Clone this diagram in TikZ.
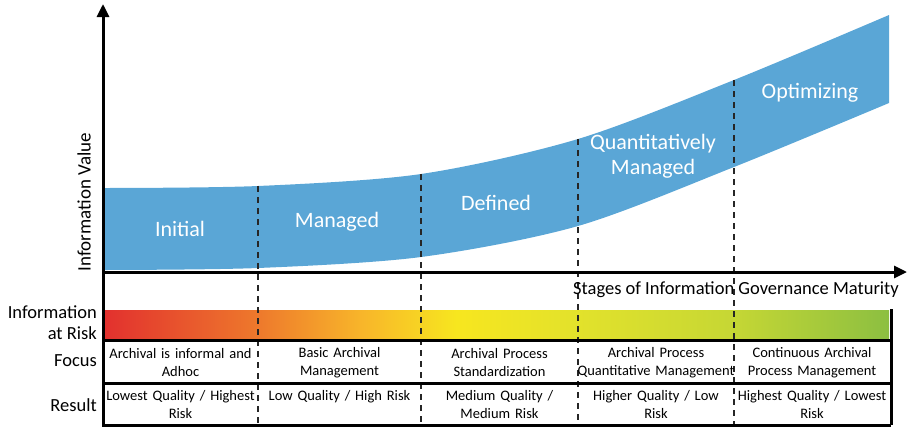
\documentclass[tikz,border=0pt]{standalone}
\usepackage{fontspec}
\setmainfont{Carlito}
\usetikzlibrary{arrows.meta}
\definecolor{bandblue}{HTML}{5AA6D6}
\definecolor{rA}{HTML}{E2302E}
\definecolor{rB}{HTML}{EE7A2C}
\definecolor{rC}{HTML}{F8B62A}
\definecolor{rD}{HTML}{F7E61F}
\definecolor{rE}{HTML}{E3E22B}
\definecolor{rF}{HTML}{C6D734}
\definecolor{rG}{HTML}{8CBF41}
% TikZ maps the middle half (25bp..75bp) of the shading onto the path
\pgfdeclarehorizontalshading{riskbar}{100bp}{color(0bp)=(rA); color(25bp)=(rA); color(35bp)=(rB); color(41.5bp)=(rC); color(47.5bp)=(rD); color(55bp)=(rE); color(65bp)=(rF); color(75bp)=(rG); color(100bp)=(rG)}
\tikzset{
  axis/.style={line width=3pt, -{Triangle[length=13pt,width=12pt]}},
  rule/.style={line width=3pt},
  stagesep/.style={line width=1.6pt, dash pattern=on 6pt off 5pt, black!85},
  bandlabel/.style={text=white, font=\fontsize{22}{25}\selectfont, align=center},
  sidelabel/.style={font=\fontsize{18.5}{21}\selectfont, align=right, anchor=east, inner sep=1pt},
  cell/.style={font=\fontsize{14.5}{18}\selectfont, align=center, text width=160pt, inner sep=0pt},
}
\begin{document}
\begin{tikzpicture}[x=1pt,y=-1pt]
\useasboundingbox (0,0) rectangle (909,429);
% band
\fill[bandblue] plot[smooth] coordinates{(105,188) (258,186) (421,174) (578,139) (734,80) (889,15)}
  -- plot[smooth] coordinates{(889,103) (734,167) (578,226) (421,257) (258,268) (105,270)} -- cycle;
% risk bar
\shade[shading=riskbar] (103,310) rectangle (889,338);
% stage separators
\coordinate (s1t) at (258,186); \coordinate (s1b) at (258,425);
\coordinate (s2t) at (421,174); \coordinate (s2b) at (421,425);
\coordinate (s3t) at (578,139); \coordinate (s3b) at (578,425);
\coordinate (s4t) at (734,80);  \coordinate (s4b) at (734,425);
\foreach \i in {1,2,3,4} \draw[stagesep] (s\i t) -- (s\i b);
% table rules
\coordinate (tl1) at (103,340); \coordinate (tr1) at (891,340);
\coordinate (tl2) at (103,383); \coordinate (tr2) at (891,383);
\coordinate (tl3) at (103,425); \coordinate (tr3) at (891,425);
\coordinate (rt) at (891,309);
\draw[rule] (tl1) -- (tr1);
\draw[rule] (tl2) -- (tr2);
\draw[rule] (tl3) -- (tr3);
\draw[rule] (rt) -- (tr3);
% axes
\coordinate (origin) at (103,272);
\coordinate (ybot) at (103,426.5);
\coordinate (ytop) at (103,4);
\coordinate (xend) at (907,272);
\draw[axis] (ybot) -- (ytop);
\draw[axis] (origin) -- (xend);
% band labels
\node[bandlabel] (initial) at (180,229) {Initial};
\node[bandlabel] (managed) at (337,222) {Managed};
\node[bandlabel] (defined) at (496,203) {Defined};
\node[bandlabel] (quant) at (653,156) {Quantitatively\\[0pt]Managed};
\node[bandlabel] (optim) at (810,93) {Optimizing};
% axis labels
\node[font=\fontsize{19}{21}\selectfont, rotate=90] (yl) at (84,202) {Information Value};
\node[font=\fontsize{18.5}{21}\selectfont, anchor=east, inner sep=0pt] (xl) at (899,290) {Stages of Information Governance Maturity};
% side labels
\node[sidelabel] (risk) at (98,323) {Information\\at Risk};
\node[sidelabel] (focus) at (98,361) {Focus};
\node[sidelabel] (result) at (98,405) {Result};
% focus row
\node[cell] (f1) at (180.5,362.5) {Archival is informal and\\Adhoc};
\node[cell] (f2) at (339.5,362.5) {Basic Archival\\Management};
\node[cell] (f3) at (499.5,362.5) {Archival Process\\Standardization};
\node[cell] (f4) at (656,362.5) {Archival Process\\Quantitative Management};
\node[cell] (f5) at (812,362.5) {Continuous Archival\\Process Management};
% result row
\node[cell] (r1) at (180.5,405) {Lowest Quality / Highest\\Risk};
\node[cell] (r2) at (339.5,397) {Low Quality / High Risk};
\node[cell] (r3) at (499.5,405) {Medium Quality /\\Medium Risk};
\node[cell] (r4) at (656,405) {Higher Quality / Low\\Risk};
\node[cell] (r5) at (812,405) {Highest Quality / Lowest\\Risk};
\end{tikzpicture}
\end{document}
